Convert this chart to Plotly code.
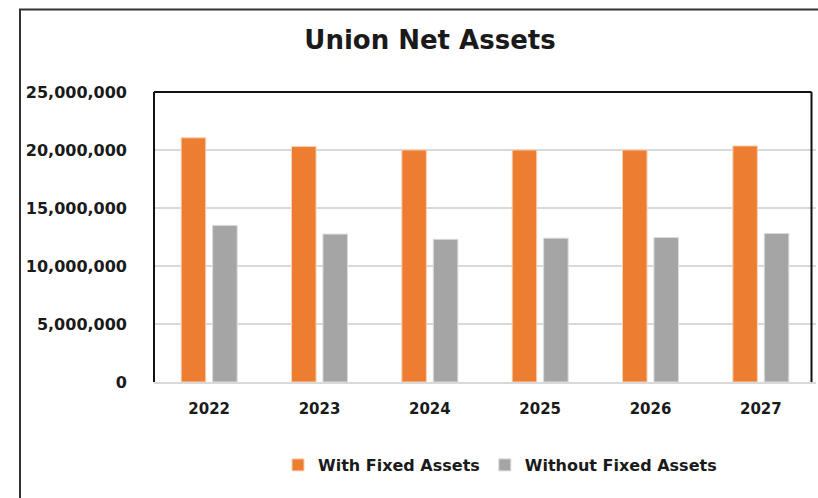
import plotly.graph_objects as go

years = ["2022", "2023", "2024", "2025", "2026", "2027"]
with_fixed = [21050000, 20300000, 20000000, 20000000, 20000000, 20350000]
without_fixed = [13500000, 12750000, 12300000, 12400000, 12450000, 12800000]

ORANGE = "#ED7D31"
GRAY = "#A5A5A5"
FONT = "DejaVu Sans"
TXT = "#1a1a1a"

fig = go.Figure()
fig.add_trace(go.Bar(x=years, y=with_fixed, name="With Fixed Assets",
                     marker=dict(color=ORANGE, line=dict(color="#F8D0B4", width=1))))
fig.add_trace(go.Bar(x=years, y=without_fixed, name="Without Fixed Assets",
                     marker=dict(color=GRAY, line=dict(color="#DADADA", width=1))))

W, H = 818, 498
L, R, T, B = 154, 816, 92, 382

def px(x):
    return (x - L) / (R - L)

def py(y):
    return (B - y) / (B - T)

fig.update_layout(
    width=W, height=H,
    margin=dict(l=L, r=W - R, t=T, b=H - B, autoexpand=False),
    paper_bgcolor="white", plot_bgcolor="white",
    barmode="group", bargap=0.43, bargroupgap=0.22,
    title=dict(text="<b>Union Net Assets</b>", x=px(430), xref="paper", xanchor="center",
               y=1 - 40 / H, yref="container", yanchor="middle",
               font=dict(family=FONT, size=26, color=TXT)),
    font=dict(family=FONT, color=TXT),
    legend=dict(orientation="h", x=px(500), xanchor="center", y=py(465), yanchor="middle",
                font=dict(family=FONT, size=16, color=TXT, weight="bold"),
                itemwidth=30, traceorder="normal", bgcolor="rgba(0,0,0,0)"),
    showlegend=True,
)

fig.update_yaxes(range=[0, 25000000], dtick=5000000, tickformat=",",
                 showgrid=True, gridcolor="#D9D9D9", gridwidth=1.5,
                 zeroline=False, showline=False, ticks="",
                 ticklabelstandoff=26,
                 tickfont=dict(family=FONT, size=16, color=TXT, weight="bold"))
fig.update_xaxes(showline=True, linecolor="#D9D9D9", linewidth=2, ticks="",
                 ticklabelstandoff=12,
                 tickfont=dict(family=FONT, size=15, color=TXT, weight="bold"))

# plot frame (left, top, right)
RF = 811.5
frame = dict(type="line", xref="paper", yref="paper", line=dict(color="#111111", width=2))
fig.add_shape(**frame, x0=0, x1=0, y0=0, y1=1)
fig.add_shape(**frame, x0=0, x1=px(RF), y0=1, y1=1)
fig.add_shape(**frame, x0=px(RF), x1=px(RF), y0=0, y1=1)

# outer chart border
fig.add_shape(type="rect", xref="paper", yref="paper",
              x0=px(20), x1=px(830), y0=py(9.5), y1=py(510),
              line=dict(color="#333333", width=2), layer="above")

fig.write_html("out.html", config={"displayModeBar": False},
               post_script="document.body.style.margin='0';document.body.style.overflow='hidden';")
